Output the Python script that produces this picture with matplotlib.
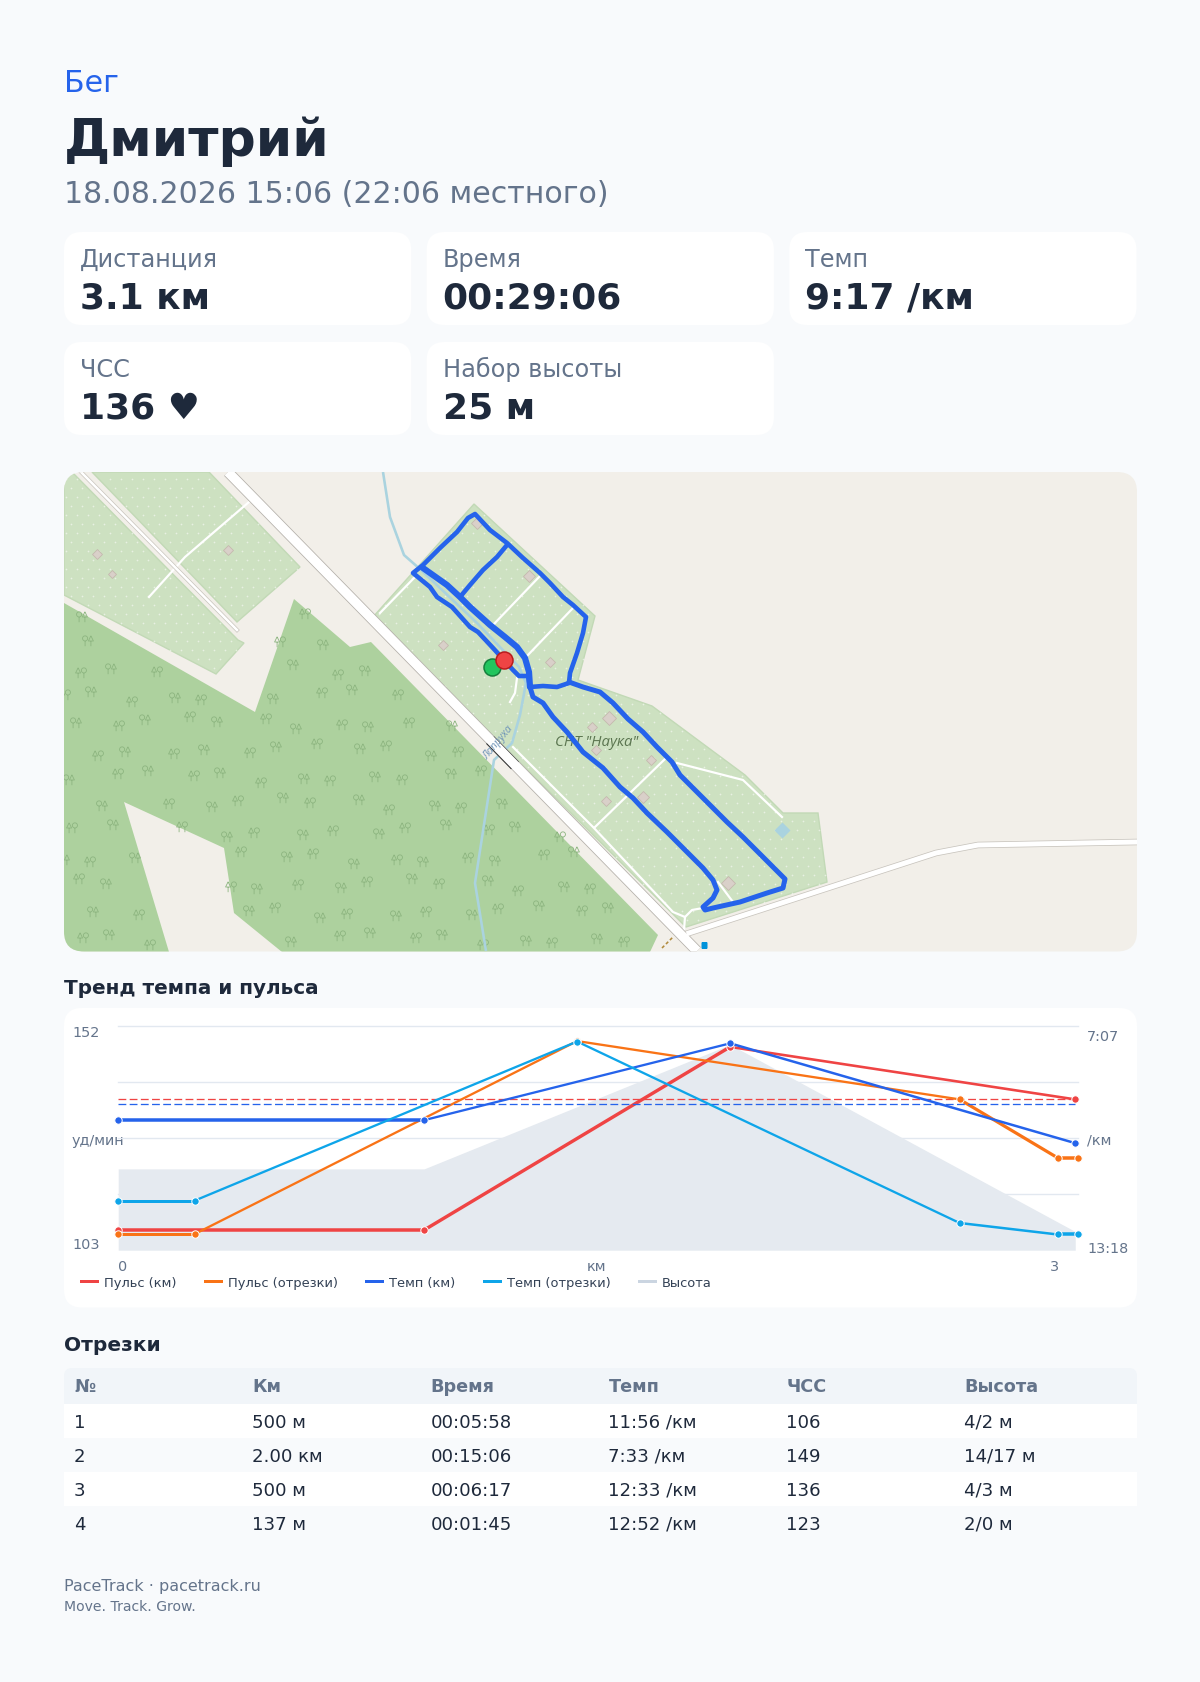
import matplotlib
matplotlib.use("Agg")
import matplotlib.pyplot as plt
import numpy as np
from matplotlib.patches import FancyBboxPatch, Polygon, Rectangle
from matplotlib.path import Path

W, H = 1200, 1682

# header and cards
sport = "Бег"
athlete = "Дмитрий"
date_line = "18.08.2026 15:06 (22:06 местного)"
card_labels = ["Дистанция", "Время", "Темп", "ЧСС", "Набор высоты"]
card_values = ["3.1 км", "00:29:06", "9:17 /км", "136 ♥", "25 м"]

# chart data
km_x = [0, 1, 2, 3.128]
lap_x = [0, 0.25, 1.5, 2.75, 3.07, 3.137]
hr_km = [106.9, 106.9, 147.7, 136]
hr_lap = [106, 106, 149, 136, 123, 123]
pace_km = [583, 583, 456, 621]
pace_lap = [716, 716, 453, 753, 772, 772]
elev_m = [6.7, 6.7, 20.0, 0.0]
hr_avg = 136
pace_avg = 557
legend_labels = ["Пульс (км)", "Пульс (отрезки)", "Темп (км)", "Темп (отрезки)", "Высота"]

# laps table
table_head = ["№", "Км", "Время", "Темп", "ЧСС", "Высота"]
table_rows = [
    ["1", "500 м", "00:05:58", "11:56 /км", "106", "4/2 м"],
    ["2", "2.00 км", "00:15:06", "7:33 /км", "149", "14/17 м"],
    ["3", "500 м", "00:06:17", "12:33 /км", "136", "4/3 м"],
    ["4", "137 м", "00:01:45", "12:52 /км", "123", "2/0 м"],
]

# map shapes in pixels
forest = [(64, 603), (255, 712), (294, 599), (350, 647), (371, 642), (658, 935), (650, 952),
          (282, 952), (234, 913), (224, 848), (124, 802), (169, 952), (64, 952)]
allot_main = [(474, 504), (595, 616), (578, 680), (652, 706), (745, 775), (783, 813), (818, 813),
              (827, 882), (686, 927), (373, 617)]
allot_ne = [(92, 472), (209, 472), (300, 567), (237, 622)]
allot_sw = [(64, 472), (72, 472), (238, 640), (244, 643), (216, 674), (64, 595)]
main_road = [(228, 472), (697, 951)]
nw_road = [(81, 472), (237, 630)]
east_road = [(689, 933), (936, 853), (978, 845), (1137, 842)]
bridge = [(490, 740), (515, 765.5)]
white_paths = [
    [(249, 502), (185, 557), (149, 597)],
    [(513, 747), (593, 827), (673, 912), (685, 917), (684, 930)],
    [(685, 917), (692, 910), (703, 908)],
    [(380, 613), (415, 577)],
    [(493, 625), (540, 576)],
    [(527, 656), (573, 608)],
    [(517, 678), (515, 693), (510, 702)],
    [(595, 827), (665, 759)],
    [(677, 763), (743, 780), (782, 817)],
    [(718, 882), (733, 902)],
]
river = [(383, 472), (390, 517), (404, 555), (421, 570), (477, 623), (519, 667), (526, 683),
         (520, 715), (512, 743), (494, 760), (475, 883), (486, 951)]
buildings = [(477, 523, 8), (529, 576, 8), (443, 645, 7), (550, 662, 7), (609, 718, 9), (592, 727, 7),
             (596, 750, 7), (651, 760, 7), (643, 797, 8), (606, 801, 6), (728, 883, 9),
             (97, 554, 7), (112, 574, 5), (228, 550, 6)]

# gps track
track_north = [(504, 660), (493, 648), (478, 632), (470, 627), (452, 607), (437, 597), (430, 587), (413, 573),
               (423, 565), (440, 548), (457, 532), (468, 518), (475, 514), (490, 530), (507, 543), (523, 558),
               (540, 573), (550, 583), (563, 597), (573, 605), (586, 617), (583, 633), (577, 653), (570, 673),
               (569, 683), (557, 687), (543, 686), (530, 687)]
track_trunk = [(530, 687), (529, 672), (525, 658), (517, 647), (505, 637), (490, 625), (470, 607), (460, 597),
               (447, 585), (423, 568)]
track_branch = [(460, 597), (470, 585), (483, 570), (497, 557), (507, 545)]
track_link = [(504, 660), (513, 670), (519, 676), (528, 676), (530, 687)]
track_south = [(530, 687), (533, 697), (543, 703), (553, 717), (567, 732), (583, 752), (603, 768), (620, 787),
               (633, 798), (647, 813), (667, 832), (687, 852), (703, 868), (713, 880), (717, 890), (713, 898),
               (703, 907), (705, 910), (713, 908), (740, 902), (767, 893), (783, 888), (785, 879), (763, 857),
               (743, 837), (727, 822), (708, 803), (692, 787), (680, 775), (672, 762), (657, 747), (643, 732),
               (628, 719), (613, 703), (600, 692), (583, 687), (569, 682)]
start_point = (492, 667)
finish_point = (504, 660)

# colours
BG = "#f8fafc"
INK = "#1e293b"
MUTED = "#64748b"
RED = "#ef4444"
ORANGE = "#f97316"
BLUE = "#2563eb"
CYAN = "#0ea5e9"
GRAY = "#cbd5e1"


def px(v):
    return v * 0.72


fig = plt.figure(figsize=(W / 100, H / 100), dpi=100, facecolor=BG)
page = fig.add_axes([0, 0, 1, 1])
page.set_xlim(0, W)
page.set_ylim(H, 0)
page.axis("off")


def put(x, y, s, size, color=INK, weight="normal", **kw):
    page.text(x, y, s, fontsize=px(size), color=color, fontweight=weight, va="baseline",
              family="DejaVu Sans", **kw)


def box(x0, y0, x1, y1, r, color, zorder=1):
    p = FancyBboxPatch((x0, y0), x1 - x0, y1 - y0, boxstyle=f"round,pad=0,rounding_size={r}",
                       fc=color, ec="none", zorder=zorder)
    page.add_patch(p)
    return p


# header
put(64, 91.5, sport, 30, BLUE)
put(64, 156, athlete, 52, INK, "bold")
put(64, 203, date_line, 30, MUTED)

# stat cards
card_pos = [(64, 232), (426.7, 232), (789.3, 232), (64, 342), (426.7, 342)]
for (cx, cy), lab, val in zip(card_pos, card_labels, card_values):
    box(cx, cy, cx + 347.2, cy + 93, 18, "white")
    put(cx + 16, cy + 35, lab, 24, MUTED)
    put(cx + 16, cy + 76.5, val, 36, INK, "bold")

# map
map_frame = box(64, 472, 1137, 951.5, 20, "#f2efe9")
before = set(page.get_children())
page.add_patch(Polygon(forest, fc="#add19e", ec="none", zorder=2))
for shape in (allot_main, allot_ne, allot_sw):
    page.add_patch(Polygon(shape, fc="#cde1c1", ec="#c2d9b6", lw=1, zorder=2))

# dot texture on allotments
gx, gy = np.meshgrid(np.arange(60, 840, 11.0), np.arange(470, 955, 9.0))
gx = gx + (np.arange(gx.shape[0])[:, None] % 2) * 5.5
pts = np.column_stack([gx.ravel(), gy.ravel()])
for shape in (allot_main, allot_ne, allot_sw):
    keep = pts[Path(shape).contains_points(pts)]
    page.scatter(keep[:, 0], keep[:, 1], s=px(1.7) ** 2, c="white", alpha=0.55, linewidths=0, zorder=2.1)

# tree symbols on forest, round + pine glyph
theta = np.linspace(0, 2 * np.pi, 13)
round_tree = [(-0.37 + 0.33 * np.cos(t), 0.33 + 0.33 * np.sin(t)) for t in theta]
glyph_v = round_tree + [(-0.37, 0.0), (-0.37, -0.66), (0.37, 0.66), (0.05, 0.0), (0.69, 0.0), (0.37, 0.66),
                        (0.37, 0.0), (0.37, -0.66)]
glyph_c = [Path.MOVETO] + [Path.LINETO] * 12 + [Path.MOVETO, Path.LINETO, Path.MOVETO, Path.LINETO,
                                                Path.LINETO, Path.LINETO, Path.MOVETO, Path.LINETO]
tree_a = Path(glyph_v, glyph_c)
tree_b = Path([(-v[0], v[1]) for v in glyph_v], glyph_c)
jit_x = [0, 6, -5, 3, -7, 5, -2, 7, -4]
jit_y = [0, -4, 3, 6, -3, 2, -6, 4, -1]
tx, ty = [], []
row = 0
for yy in np.arange(480, 960, 27.0):
    col = 0
    for xx in np.arange(58, 680, 37.0):
        tx.append(xx + (row % 2) * 18 + jit_x[(row * 2 + col) % 9])
        ty.append(yy + jit_y[(row + col * 2) % 9])
        col += 1
    row += 1
tpts = np.column_stack([tx, ty])
tpts = tpts[Path(forest).contains_points(tpts)]
for k, glyph in enumerate((tree_a, tree_b)):
    sub = tpts[k::2]
    page.scatter(sub[:, 0], sub[:, 1], s=px(11) ** 2, marker=glyph, facecolors="none", edgecolors="#8db580",
                 linewidths=0.6, zorder=2.2)

# river, roads, paths
page.plot(*zip(*river), color="#aad3df", lw=px(2.6), zorder=3, solid_capstyle="butt")
page.plot(*zip(*main_road), color="#b5b1ab", lw=px(11), zorder=3.2, solid_capstyle="butt")
page.plot(*zip(*bridge), color="#333333", lw=px(11), zorder=3.25, solid_capstyle="butt")
page.plot(*zip(*main_road), color="white", lw=px(9.4), zorder=3.3, solid_capstyle="butt")
page.plot(*zip(*nw_road), color="#c8c4bd", lw=px(4), zorder=3.2)
page.plot(*zip(*nw_road), color="white", lw=px(2.6), zorder=3.3)
page.plot(*zip(*east_road), color="#c8c4bd", lw=px(6.5), zorder=3.2)
page.plot(*zip(*east_road), color="white", lw=px(5), zorder=3.3)
for seg in white_paths:
    page.plot(*zip(*seg), color="white", lw=px(2.2), zorder=3.1)

# buildings and pond
for bx, by, bs in buildings:
    page.plot(bx, by, marker="D", ms=px(bs * 1.1), mfc="#d9d0c9", mec="#c4b9ae", mew=0.6, zorder=3.5)
page.plot(782, 830, marker="D", ms=px(11), mfc="#aad3df", mec="none", zorder=3.5)
page.plot(704, 945, marker="s", ms=px(6), mfc="#0092da", mec="none", zorder=3.5)
page.plot([662, 673], [948, 937], color="#b08a3c", lw=px(1.6), ls=(0, (2, 1.5)), zorder=3.4)
page.text(597, 742, 'СНТ "Наука"', fontsize=px(15), color="#5b7550", style="italic", family="Open Sans",
          ha="center", va="center", zorder=3.6)
page.text(498, 743, "Лапруха", fontsize=px(10.5), color="#6e94b8", style="italic", family="Open Sans",
          ha="center", va="center", rotation=50, rotation_mode="anchor", zorder=3.6)

# gps track and start/finish
for seg, lw in ((track_north, 4.6), (track_link, 4.6), (track_trunk, 6.2), (track_branch, 4.6), (track_south, 5)):
    page.plot(*zip(*seg), color=BLUE, lw=px(lw), zorder=4, solid_joinstyle="round", solid_capstyle="round")
page.plot(*start_point, marker="o", ms=px(17), mfc="#22c55e", mec="#15803d", mew=1.1, zorder=5)
page.plot(*finish_point, marker="o", ms=px(17), mfc=RED, mec="#b91c1c", mew=1.1, zorder=5.1)

for art in page.get_children():
    if art not in before:
        art.set_clip_path(map_frame)

# chart card
put(64, 994, "Тренд темпа и пульса", 20, INK, "bold")
box(64, 1008, 1137, 1307.5, 18, "white")

put(72, 1037, "152", 14.4, MUTED)
put(72, 1145, "уд/мин", 14.4, MUTED)
put(72, 1249, "103", 14.4, MUTED)
put(1087, 1041, "7:07", 14.4, MUTED)
put(1087, 1145, "/км", 14.4, MUTED)
put(1087, 1253, "13:18", 14.4, MUTED)
put(118, 1271, "0", 14.4, MUTED)
put(597, 1271, "км", 14.4, MUTED, ha="center")
put(1054, 1271, "3", 14.4, MUTED, ha="center")

legend_x = [(80, 99, 104), (204, 223, 228.3), (365, 384, 389), (482.7, 502, 507), (638, 657, 662)]
for (x0, x1, tx0), lab, col in zip(legend_x, legend_labels, (RED, ORANGE, BLUE, CYAN, GRAY)):
    page.add_patch(Rectangle((x0, 1280), x1 - x0, 3, fc=col, ec="none", zorder=2))
    put(tx0, 1286.7, lab, 13, "#334155")

rect = [118.2 / W, 1 - 1250.2 / H, 959.8 / W, 224.4 / H]
ax_elev = fig.add_axes(rect, facecolor="none")
ax_elev.set_xlim(0, 3.137)
ax_elev.set_ylim(-2, 22)
ax_elev.set_yticks(np.linspace(-2, 22, 5)[1:])
ax_elev.set_xticks([])
ax_elev.tick_params(length=0, labelleft=False)
ax_elev.grid(axis="y", color="#e2e8f0", lw=px(1.4), clip_on=False)
ax_elev.set_axisbelow(True)
for sp in ax_elev.spines.values():
    sp.set_visible(False)
ax_elev.fill_between(km_x, elev_m, -2, color="#e5eaf0", lw=0, zorder=2)

ax_hr = ax_elev.twinx()
ax_hr.set_ylim(102.4, 152.4)
ax_hr.axis("off")
ax_pace = ax_elev.twinx()
ax_pace.set_ylim(798, 427)
ax_pace.axis("off")


def draw_series(ax, xs, ys, widths, color):
    for i, w in enumerate(widths):
        ax.plot(xs[i:i + 2], ys[i:i + 2], color=color, lw=px(w), clip_on=False, solid_capstyle="round")
    ax.plot(xs, ys, ls="none", marker="o", ms=px(7.4), mfc=color, mec="white", mew=0.7, clip_on=False)


ax_hr.plot([0, 3.128], [hr_avg, hr_avg], color=RED, lw=px(1.3), ls=(0, (6, 2.6)))
ax_pace.plot([0, 3.128], [pace_avg, pace_avg], color=BLUE, lw=px(1.3), ls=(0, (6, 2.6)))
draw_series(ax_hr, km_x, hr_km, [3.5, 3.4, 2.6], RED)
draw_series(ax_hr, lap_x, hr_lap, [3.0, 2.3, 2.3, 3.2, 3.5], ORANGE)
draw_series(ax_pace, km_x, pace_km, [3.5, 2.3, 2.5], BLUE)
draw_series(ax_pace, lap_x, pace_lap, [3.0, 2.3, 2.3, 2.5, 3.5], CYAN)

# laps table
put(64, 1351, "Отрезки", 20.2, INK, "bold")
col_x = [74, 252.5, 430.5, 608.5, 786.5, 964.5]
box(64, 1368, 1137, 1410, 8, "#f1f5f9")
page.add_patch(Rectangle((64, 1404), 1073, 34, fc="white", ec="none", zorder=1.5))
page.add_patch(Rectangle((64, 1472), 1073, 34, fc="white", ec="none", zorder=1.5))
for x, s in zip(col_x, table_head):
    put(x, 1392, s, 17.6, MUTED, "bold", zorder=3)
for i, row_vals in enumerate(table_rows):
    for x, s in zip(col_x, row_vals):
        put(x, 1427.5 + 34 * i, s, 18.2, INK, zorder=3)

# footer
put(64, 1591, "PaceTrack · pacetrack.ru", 16, MUTED)
put(64, 1611, "Move. Track. Grow.", 14, MUTED)

fig.savefig("out.png", dpi=100, facecolor=BG)
